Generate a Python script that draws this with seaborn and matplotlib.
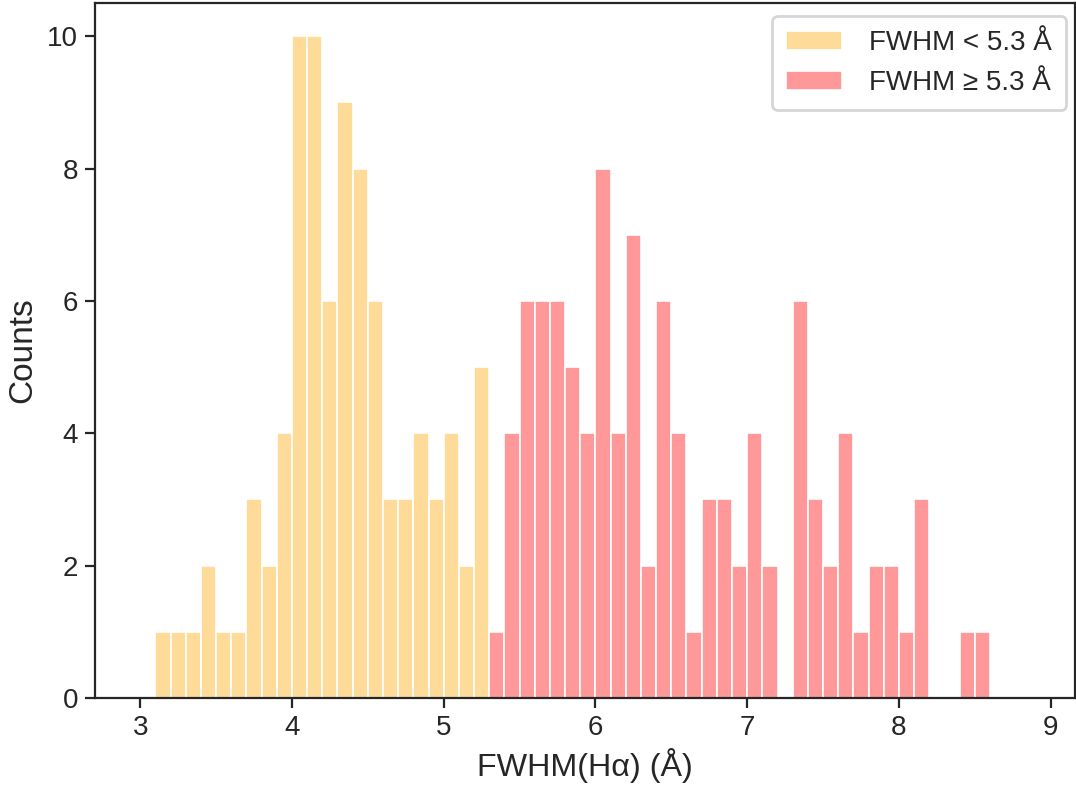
import numpy as np
import pandas as pd
import matplotlib
matplotlib.use("Agg")
import matplotlib.pyplot as plt
import seaborn as sns

# Histogram of FWHM(Halpha), 0.1 A bins, split at 5.3 A
narrow_centers = [3.15, 3.25, 3.35, 3.45, 3.55, 3.65, 3.75, 3.85, 3.95,
                  4.05, 4.15, 4.25, 4.35, 4.45, 4.55,
                  4.65, 4.75, 4.85, 4.95, 5.05, 5.15, 5.25]
narrow_counts = [1, 1, 1, 2, 1, 1, 3, 2, 4,
                 10, 10, 6, 9, 8, 6,
                 3, 3, 4, 3, 4, 2, 5]

broad_centers = [5.35, 5.45, 5.55, 5.65, 5.75, 5.85, 5.95, 6.05, 6.15, 6.25,
                 6.35, 6.45, 6.55, 6.65, 6.75, 6.85, 6.95, 7.05, 7.15, 7.25,
                 7.35, 7.45, 7.55, 7.65, 7.75, 7.85, 7.95, 8.05, 8.15, 8.25,
                 8.35, 8.45, 8.55]
broad_counts = [1, 4, 6, 6, 6, 5, 4, 8, 4, 7,
                2, 6, 4, 1, 3, 3, 2, 4, 2, 0,
                6, 3, 2, 4, 1, 2, 2, 1, 3, 0,
                0, 1, 1]

x_ticks = [3, 4, 5, 6, 7, 8, 9]
y_ticks = [0, 2, 4, 6, 8, 10]

narrow_label = "FWHM < 5.3 Å"
broad_label = "FWHM ≥ 5.3 Å"

sns.set_theme(style="ticks")
plt.rcParams["font.family"] = ["Liberation Sans", "DejaVu Sans"]
plt.rcParams["xtick.major.size"] = 3.5
plt.rcParams["ytick.major.size"] = 3.5
plt.rcParams["xtick.major.width"] = 0.8
plt.rcParams["ytick.major.width"] = 0.8
plt.rcParams["xtick.major.pad"] = 2.5
plt.rcParams["ytick.major.pad"] = 2.5
plt.rcParams["axes.linewidth"] = 0.8
plt.rcParams["axes.edgecolor"] = "#262626"

fig, ax = plt.subplots(figsize=(5.38, 3.93), dpi=200)
fig.subplots_adjust(left=0.088, right=0.999, top=0.996, bottom=0.112)

narrow_df = pd.DataFrame({"fwhm": narrow_centers, "n": narrow_counts})
broad_df = pd.DataFrame({"fwhm": broad_centers, "n": broad_counts})
narrow_edges = [round(v, 2) for v in np.arange(3.1, 5.3 + 1e-9, 0.1)]
broad_edges = [round(v, 2) for v in np.arange(5.3, 8.6 + 1e-9, 0.1)]

sns.histplot(data=narrow_df, x="fwhm", weights="n", bins=narrow_edges,
             color="#FFDB99", alpha=1, edgecolor="white", linewidth=0.6,
             label=narrow_label, ax=ax)
sns.histplot(data=broad_df, x="fwhm", weights="n", bins=broad_edges,
             color="#FF9999", alpha=1, edgecolor="white", linewidth=0.6,
             label=broad_label, ax=ax)

ax.set_xlim(2.7, 9.16)
ax.set_ylim(0, 10.5)
ax.set_xticks(x_ticks)
ax.set_yticks(y_ticks)
ax.tick_params(labelsize=10, colors="#262626")
ax.set_xlabel("FWHM(Hα) (Å)", fontsize=11.6, color="#262626", labelpad=2.5)
ax.set_ylabel("Counts", fontsize=12, color="#262626", labelpad=3)

leg = ax.legend(loc="upper right", bbox_to_anchor=(0.991, 0.981),
                borderaxespad=0, fontsize=10, handlelength=2.0,
                handletextpad=1.0, labelspacing=0.5, borderpad=0.5,
                frameon=True)
leg.get_frame().set_edgecolor("#cccccc")

fig.savefig("out.png", dpi=200)
